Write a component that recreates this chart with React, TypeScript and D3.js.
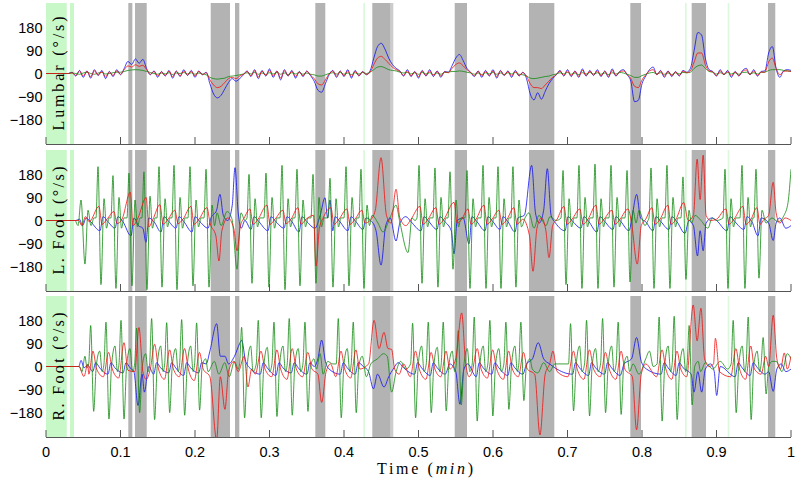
import React from 'react';
import * as d3 from 'd3';

// ---------- axis / labels ----------
const xTicks = [0, 0.1, 0.2, 0.3, 0.4, 0.5, 0.6, 0.7, 0.8, 0.9, 1];
const xTickLabels = ['0', '0.1', '0.2', '0.3', '0.4', '0.5', '0.6', '0.7', '0.8', '0.9', '1'];
const yTicks = [180, 90, 0, -90, -180];
const yTickLabels = ['180', '90', '0', '\u221290', '\u2212180'];
const panelNames = ['Lumbar', 'L. Foot', 'R. Foot'];

// ---------- shaded intervals (min) ----------
const grayBands = [[0.1105, 0.1159], [0.1195, 0.1352], [0.2211, 0.2470], [0.2537, 0.2595], [0.3615, 0.3749], [0.4380, 0.4627], [0.5486, 0.5651], [0.6483, 0.6823], [0.7843, 0.7987], [0.8667, 0.8859], [0.9691, 0.9789]];
const lightGrayBands = [[0.4627, 0.4662]];
const greenBands = [[0, 0.0278], [0.0322, 0.0376]];
const greenLines = [[0.4259, 0.4282], [0.8577, 0.8600], [0.9150, 0.9172]];

// ---------- Lumbar (sampled every 0.005 min) ----------
const lumbarStep = 0.005;
const lumbarBlue = [
  0, 0, 0, 0, 0, 0, 0, 5, -10, 12,
  -15, 10, -18, 15, -8, 12, -20, 8, -12, 15,
  -5, 20, 47, 35, 57, 40, 55, 20, -5, 10,
  -15, 8, -10, 12, -18, 10, -12, 15, -8, 12,
  -15, 10, -5, 5, -40, -80, -95, -85, -60, -35,
  -20, -30, -20, -5, 10, -12, 15, -20, 12, -10,
  18, -15, 10, -25, 15, -10, 12, -18, 8, -12,
  10, -8, -30, -65, -73, -40, -5, 12, -15, 10,
  -12, 15, -18, 12, -10, 8, -5, 10, 60, 105,
  118, 95, 60, 35, 20, 10, -10, 15, -12, 8,
  -18, 12, -10, 15, -12, 10, -15, 8, 5, 30,
  60, 74, 50, 20, 5, -12, 10, -15, 12, -10,
  15, -18, 12, -8, 10, -15, 12, -10, 5, -20,
  -80, -103, -75, -100, -70, -40, -20, -5, 12, -10,
  15, -12, 10, -15, 18, -10, 12, -8, 15, -12,
  10, -15, 18, -10, 8, 15, -5, -30, -110, -105,
  -40, -10, 15, 25, -5, 12, -15, 10, -12, 8,
  -10, 12, 5, 20, 90, 160, 150, 60, 15, 8,
  -10, 15, -5, 12, -15, 8, -10, 12, 20, -5,
  15, -10, 8, 10, 80, 105, 20, -15, 10, 15,
  12,
];
const lumbarRed = [
  0, 0, 0, 0, 0, 0, 0, 3, -8, 10,
  -10, 8, -12, 10, -6, 8, -14, 6, -8, 10,
  -3, 15, 30, 25, 34, 28, 32, 15, -3, 8,
  -10, 6, -8, 9, -12, 8, -9, 10, -6, 9,
  -10, 8, -4, 3, -25, -45, -55, -50, -35, -20,
  -15, -20, -10, -3, 8, -9, 10, -14, 9, -8,
  12, -10, 8, -18, 10, -8, 9, -12, 6, -9,
  8, -6, -20, -40, -45, -25, -2, 9, -10, 8,
  -9, 10, -12, 9, -8, 6, -3, 5, 35, 60,
  67, 55, 40, 25, 15, 8, -8, 10, -9, 6,
  -12, 9, -8, 10, -9, 8, -10, 6, 3, 20,
  35, 41, 30, 15, 4, -9, 8, -10, 9, -8,
  10, -12, 9, -6, 8, -10, 9, -8, 3, -10,
  -40, -55, -55, -59, -45, -30, -15, -4, 9, -8,
  10, -9, 8, -10, 12, -8, 9, -6, 10, -9,
  8, -10, 12, -8, 6, 10, -3, -20, -50, -55,
  -25, -5, 10, 15, -4, 9, -10, 8, -9, 6,
  -8, 9, 3, 10, 45, 80, 80, 35, 10, 6,
  -8, 10, -4, 9, -10, 6, -8, 9, 14, -4,
  10, -8, 6, 5, 45, 60, 20, -5, 8, 10,
  8,
];
const lumbarGreen = [
  0, 0, 0, 0, 0, 0, 0, 2, 0, -3,
  2, 5, 0, -3, 2, 4, -2, 0, 3, 5,
  5, 8, 12, 14, 15, 14, 12, 8, 4, 0,
  -3, 2, -2, 3, -4, 2, 0, 4, -2, 3,
  -3, 2, -2, -5, -15, -20, -22, -20, -18, -12,
  -10, -8, -5, -2, 3, -2, 4, -3, 2, -4,
  3, -2, 4, -3, 2, -4, 3, -2, 4, -3,
  2, -3, -5, -10, -10, -5, 0, 3, -2, 4,
  -3, 2, -4, 3, -2, 4, 0, 5, 15, 25,
  27, 22, 15, 12, 10, 5, 2, 4, -2, 3,
  -3, 4, -2, 3, -4, 2, -3, 4, 5, 8,
  8, 10, 8, 5, 2, -3, 2, -4, 3, -2,
  4, -3, 2, -4, 3, -2, 4, -3, -5, -10,
  -18, -20, -18, -15, -12, -10, -5, -2, 3, -2,
  4, -3, 2, -4, 3, -2, 4, -2, 3, -3,
  2, -4, 3, -2, 4, 2, -3, -8, -15, -15,
  -8, -3, 2, 4, -2, 3, -3, 2, -4, 3,
  -2, 4, 3, 5, 20, 30, 33, 20, 8, 5,
  -2, 3, -3, 4, -2, 3, -3, 4, 5, -2,
  3, -2, 4, 5, 12, 15, 15, 15, 12, 10,
  8,
];

// ---------- L. Foot (key points: [min, deg/s]) ----------
const lFootGreen = [
  [0, 0], [0.0389, 0], [0.0430, -20], [0.0470, 80], [0.0523, -170], [0.0564, 40], [0.0604, -20], [0.0644, 10],
  [0.0671, 10], [0.0698, 210], [0.0738, -250], [0.0779, 85], [0.0812, -30], [0.0846, 10],
  [0.0872, 10], [0.0899, 175], [0.0939, -265], [0.0980, 90], [0.1013, -30], [0.1047, 10],
  [0.1087, 10], [0.1114, 185], [0.1154, -255], [0.1195, 80], [0.1228, -25], [0.1262, 10],
  [0.1288, 10], [0.1315, 190], [0.1355, -270], [0.1396, 95], [0.1429, -30], [0.1463, 10],
  [0.1490, 10], [0.1517, 210], [0.1557, -260], [0.1598, 85], [0.1631, -25], [0.1665, 10],
  [0.1691, 10], [0.1718, 215], [0.1758, -270], [0.1799, 90], [0.1832, -30], [0.1866, 10],
  [0.1906, 10], [0.1933, 210], [0.1973, -255], [0.2014, 80], [0.2047, -25], [0.2081, 10],
  [0.2121, 10], [0.2148, 200], [0.2188, -260], [0.2229, 60], [0.2262, -20],
  [0.2296, 30], [0.2350, -20], [0.2430, 35], [0.2497, 5], [0.2564, -190], [0.2617, 30], [0.2671, 0],
  [0.2698, 10], [0.2725, 180], [0.2765, -245], [0.2806, 85], [0.2839, -25], [0.2873, 10],
  [0.2926, 10], [0.2953, 185], [0.2993, -260], [0.3034, 90], [0.3067, -30], [0.3101, 10],
  [0.3141, 10], [0.3168, 215], [0.3208, -270], [0.3249, 85], [0.3282, -25], [0.3316, 10],
  [0.3342, 10], [0.3369, 200], [0.3409, -255], [0.3450, 80], [0.3483, -25], [0.3517, 10],
  [0.3557, 10], [0.3584, 180], [0.3624, -245], [0.3665, 90], [0.3698, -25], [0.3732, 10],
  [0.3785, 10], [0.3812, 165], [0.3852, -260], [0.3893, 85], [0.3926, -25], [0.3960, 10],
  [0.4000, 10], [0.4027, 210], [0.4067, -255], [0.4108, 90], [0.4141, -25], [0.4175, 10],
  [0.4201, 10], [0.4228, 200], [0.4268, -265], [0.4309, 60], [0.4342, -20],
  [0.4376, 20], [0.4456, -10], [0.4523, -45], [0.4617, 10], [0.4698, 60], [0.4752, -10], [0.4859, -125], [0.4913, 10], [0.4953, 0],
  [0.4980, 10], [0.5007, 215], [0.5047, -245], [0.5088, 85], [0.5121, -25], [0.5155, 10],
  [0.5194, 10], [0.5221, 205], [0.5261, -260], [0.5302, 90], [0.5335, -25], [0.5369, 10],
  [0.5396, 10], [0.5423, 190], [0.5463, -190], [0.5504, 80], [0.5537, -25], [0.5571, 10],
  [0.5624, 10], [0.5651, 195], [0.5691, -265], [0.5732, 85], [0.5765, -25], [0.5799, 10],
  [0.5839, 10], [0.5866, 215], [0.5906, -265], [0.5947, 90], [0.5980, -25], [0.6014, 10],
  [0.6040, 10], [0.6067, 210], [0.6107, -265], [0.6148, 85], [0.6181, -25], [0.6215, 10],
  [0.6241, 10], [0.6268, 210], [0.6308, -260], [0.6349, 80], [0.6382, -25],
  [0.6430, 10], [0.6483, 30], [0.6550, -30], [0.6617, 20], [0.6711, -20], [0.6765, 15], [0.6846, 0],
  [0.6913, 10], [0.6940, 195], [0.6980, -250], [0.7021, 85], [0.7054, -25], [0.7088, 10],
  [0.7127, 10], [0.7154, 215], [0.7194, -265], [0.7235, 90], [0.7268, -25], [0.7302, 10],
  [0.7342, 10], [0.7369, 220], [0.7409, -265], [0.7450, 85], [0.7483, -25], [0.7517, 10],
  [0.7557, 10], [0.7584, 215], [0.7624, -260], [0.7665, 90], [0.7698, -25], [0.7732, 10],
  [0.7772, 10], [0.7799, 195], [0.7839, -240], [0.7880, 40], [0.7920, -10],
  [0.7960, 40], [0.8040, -20], [0.8080, 0],
  [0.8094, 10], [0.8121, 205], [0.8161, -265], [0.8202, 85], [0.8235, -25], [0.8269, 10],
  [0.8308, 10], [0.8335, 215], [0.8375, -265], [0.8416, 90], [0.8449, -25], [0.8483, 10],
  [0.8523, 10], [0.8550, 170], [0.8590, -230], [0.8631, 40], [0.8664, -10],
  [0.8711, 20], [0.8792, 0], [0.8886, -30], [0.8940, 10], [0.9000, 0],
  [0.9087, 10], [0.9114, 200], [0.9154, -265], [0.9195, 85], [0.9228, -25], [0.9262, 10],
  [0.9315, 10], [0.9342, 215], [0.9382, -265], [0.9423, 90], [0.9456, -25], [0.9490, 10],
  [0.9503, 10], [0.9530, 200], [0.9570, -225], [0.9611, 40], [0.9664, -10], [0.9745, 10], [0.9826, -5], [0.9906, 20], [0.9960, 70], [1.0, 200],
];
const lFootRed = [
  [0, 0], [0.0440, 0], [0.0480, -20], [0.0530, 15], [0.0580, -5],
  [0.0711, 55], [0.0752, -15], [0.0819, 5],
  [0.0912, 35], [0.0953, -12], [0.1020, 5],
  [0.1132, 110], [0.1168, -20], [0.1235, 10],
  [0.1345, 90], [0.1380, -25], [0.1436, 5],
  [0.1530, 62], [0.1571, -15], [0.1638, 5],
  [0.1731, 40], [0.1772, -12], [0.1839, 5],
  [0.1946, 55], [0.1987, -15], [0.2054, 5],
  [0.2161, 50], [0.2202, -10], [0.2280, -60], [0.2322, -158], [0.2360, -40], [0.2440, 10], [0.2520, -30], [0.2564, -118], [0.2610, -20], [0.2660, 10],
  [0.2738, 45], [0.2779, -15], [0.2846, 5],
  [0.2966, 60], [0.3007, -15], [0.3074, 5],
  [0.3181, 40], [0.3222, -12], [0.3289, 5],
  [0.3382, 50], [0.3423, -15], [0.3490, 5],
  [0.3590, 20], [0.3624, -178], [0.3670, -30], [0.3720, 10],
  [0.3825, 50], [0.3866, -15], [0.3933, 5],
  [0.4040, 45], [0.4081, -15], [0.4148, 5],
  [0.4241, 40], [0.4282, -10], [0.4350, 0], [0.4420, 40], [0.4497, 245], [0.4570, 20], [0.4630, -10], [0.4698, 122], [0.4750, 10], [0.4830, -20], [0.4900, 5],
  [0.5020, 55], [0.5061, -15], [0.5128, 5],
  [0.5234, 50], [0.5275, -15], [0.5342, 5],
  [0.5477, 71], [0.5520, -10], [0.5580, 5],
  [0.5664, 45], [0.5705, -15], [0.5772, 5],
  [0.5879, 60], [0.5920, -15], [0.5987, 5],
  [0.6080, 40], [0.6121, -15], [0.6188, 5],
  [0.6281, 50], [0.6322, -15], [0.6400, 5],
  [0.6490, -60], [0.6537, -198], [0.6590, -30], [0.6650, 10], [0.6710, -40], [0.6752, -145], [0.6800, -20], [0.6860, 5],
  [0.6953, 55], [0.6994, -15], [0.7061, 5],
  [0.7167, 45], [0.7208, -15], [0.7275, 5],
  [0.7382, 60], [0.7423, -15], [0.7490, 5],
  [0.7597, 40], [0.7638, -15], [0.7705, 5],
  [0.7812, 45], [0.7860, -10], [0.7936, -170], [0.7990, -20], [0.8050, 5],
  [0.8134, 50], [0.8175, -15], [0.8242, 5],
  [0.8348, 60], [0.8389, -15], [0.8456, 5],
  [0.8560, 70], [0.8620, 0], [0.8690, 20], [0.8740, 239], [0.8780, 82], [0.8821, 255], [0.8860, 20], [0.8920, 0], [0.9000, 5],
  [0.9127, 45], [0.9168, -15], [0.9235, 5],
  [0.9355, 55], [0.9396, -15], [0.9463, 5],
  [0.9543, 50], [0.9584, -15], [0.9640, 5], [0.9700, 20], [0.9761, 149], [0.9800, 30], [0.9850, -10], [0.9920, 10], [1.0, 0],
];
const lFootBlue = [
  [0, 0], [0.0400, 0], [0.0450, 5], [0.0490, -20], [0.0540, 10], [0.0600, -5],
  [0.0725, -40], [0.0765, 15], [0.0832, -5],
  [0.0926, -30], [0.0966, 15], [0.1033, -5],
  [0.1141, -60], [0.1181, 10], [0.1240, -20],
  [0.1300, -30], [0.1342, -85], [0.1380, 10], [0.1450, -5],
  [0.1544, -45], [0.1584, 15], [0.1651, -5],
  [0.1745, -30], [0.1785, 15], [0.1852, -5],
  [0.1960, -45], [0.2000, 15], [0.2067, -5],
  [0.2175, -30], [0.2215, 10], [0.2290, 40], [0.2335, 102], [0.2380, 20], [0.2440, 0], [0.2500, 60], [0.2537, 206], [0.2580, 30], [0.2620, -30], [0.2670, 0],
  [0.2752, -35], [0.2792, 15], [0.2859, -5],
  [0.2980, -40], [0.3020, 15], [0.3087, -5],
  [0.3195, -30], [0.3235, 15], [0.3302, -5],
  [0.3396, -45], [0.3436, 15], [0.3503, -5],
  [0.3611, -30], [0.3680, 20], [0.3745, 89], [0.3780, 10],
  [0.3812, 80], [0.3850, -40], [0.3880, 15], [0.3945, -5],
  [0.4054, -40], [0.4094, 15], [0.4161, -5],
  [0.4255, -35], [0.4295, 10], [0.4360, 0],
  [0.4430, -40], [0.4497, -174], [0.4560, -20], [0.4620, 10], [0.4698, -80], [0.4750, -10], [0.4830, 15], [0.4900, -5],
  [0.5034, -40], [0.5074, 15], [0.5141, -5],
  [0.5248, -35], [0.5288, 15], [0.5355, -5],
  [0.5440, -40], [0.5477, -130], [0.5520, 0], [0.5600, 10],
  [0.5678, -91], [0.5718, 15], [0.5785, -5],
  [0.5893, -40], [0.5933, 15], [0.6000, -5],
  [0.6094, -35], [0.6134, 15], [0.6201, -5],
  [0.6295, -45], [0.6335, 10], [0.6420, 20], [0.6519, 215], [0.6570, 30], [0.6620, -10], [0.6680, 40], [0.6729, 202], [0.6780, 20], [0.6840, -10],
  [0.6967, -40], [0.7007, 15], [0.7074, -5],
  [0.7181, -30], [0.7221, 15], [0.7288, -5],
  [0.7396, -45], [0.7436, 15], [0.7503, -5],
  [0.7611, -35], [0.7651, 15], [0.7718, -5],
  [0.7826, -40], [0.7870, 20], [0.7928, 102], [0.7980, 10], [0.8050, -5],
  [0.8148, -40], [0.8188, 15], [0.8255, -5],
  [0.8362, -35], [0.8402, 15], [0.8469, -5],
  [0.8577, -50], [0.8630, 0], [0.8690, -20], [0.8745, -138], [0.8780, -40], [0.8821, -118], [0.8860, -10], [0.8940, 10], [0.9000, 0],
  [0.9141, -40], [0.9181, 15], [0.9248, -5],
  [0.9369, -35], [0.9409, 15], [0.9476, -5],
  [0.9557, -60], [0.9600, 10], [0.9700, -10], [0.9761, -78], [0.9800, -10], [0.9850, 10], [0.9930, -30], [1.0, -20],
];

// ---------- R. Foot (key points: [min, deg/s]) ----------
const rFootGreen = [
  [0, 0], [0.0450, 0], [0.0483, -20], [0.0523, 40], [0.0550, -5],
  [0.0573, 10], [0.0600, 160], [0.0640, -175], [0.0674, 0], [0.0721, 60], [0.0754, -20],
  [0.0778, 10], [0.0805, 173], [0.0845, -205], [0.0879, 0], [0.0926, 80], [0.0959, -20],
  [0.0980, 10], [0.1007, 180], [0.1047, -205], [0.1081, 0], [0.1128, 70], [0.1161, -20],
  [0.1190, 10], [0.1217, 150], [0.1257, -180], [0.1291, 0], [0.1338, 50], [0.1371, -20],
  [0.1391, 10], [0.1418, 187], [0.1458, -207], [0.1492, 0], [0.1539, 80], [0.1572, -20],
  [0.1593, 10], [0.1620, 171], [0.1660, -180], [0.1694, 0], [0.1741, 70], [0.1774, -20],
  [0.1794, 10], [0.1821, 183], [0.1861, -190], [0.1895, 0], [0.1942, 80], [0.1975, -20],
  [0.1995, 10], [0.2022, 170], [0.2062, -170], [0.2096, 0], [0.2143, 30], [0.2176, -20],
  [0.2260, 20], [0.2320, -30], [0.2400, 15], [0.2460, -40], [0.2530, 20], [0.2580, -10],
  [0.2599, 10], [0.2626, 153], [0.2666, -200], [0.2700, 0], [0.2747, 80], [0.2780, -20],
  [0.2822, 10], [0.2849, 180], [0.2889, -200], [0.2923, 0], [0.2970, 75], [0.3003, -20],
  [0.3033, 10], [0.3060, 173], [0.3100, -195], [0.3134, 0], [0.3181, 80], [0.3214, -20],
  [0.3238, 10], [0.3265, 187], [0.3305, -190], [0.3339, 0], [0.3386, 70], [0.3419, -20],
  [0.3449, 10], [0.3476, 173], [0.3516, -175], [0.3550, 0], [0.3597, 30], [0.3630, -10],
  [0.3680, 50], [0.3720, -30], [0.3780, 20], [0.3850, 10],
  [0.3896, 10], [0.3923, 187], [0.3963, -200], [0.3997, 0], [0.4044, 70], [0.4077, -20],
  [0.4097, 10], [0.4124, 173], [0.4164, -180], [0.4198, 0], [0.4245, 40], [0.4300, -40], [0.4360, 10], [0.4450, 30], [0.4530, 50], [0.4580, 40], [0.4639, -100], [0.4700, -20], [0.4760, 20], [0.4830, -10],
  [0.4894, 10], [0.4921, 169], [0.4961, -200], [0.4995, 0], [0.5042, 80], [0.5075, -20],
  [0.5104, 10], [0.5131, 173], [0.5171, -180], [0.5205, 0], [0.5252, 75], [0.5285, -20],
  [0.5305, 10], [0.5332, 173], [0.5372, -173], [0.5406, 0], [0.5453, 60], [0.5486, -20],
  [0.5507, 10], [0.5534, 140], [0.5574, -150], [0.5608, 0], [0.5655, 70], [0.5688, -20],
  [0.5721, 10], [0.5748, 193], [0.5788, -213], [0.5822, 0], [0.5869, 80], [0.5902, -20],
  [0.5931, 10], [0.5958, 180], [0.5998, -193], [0.6032, 0], [0.6079, 70], [0.6112, -20],
  [0.6146, 10], [0.6173, 173], [0.6213, -167], [0.6247, 0], [0.6294, 80], [0.6327, -20],
  [0.6347, 10], [0.6374, 173], [0.6414, -133], [0.6448, 0], [0.6495, 30], [0.6528, -10],
  [0.6600, -25], [0.6680, 15], [0.6760, -20], [0.6830, 10],
  [0.7014, 10], [0.7041, 167], [0.7081, -173], [0.7115, 0], [0.7162, 80], [0.7195, -20],
  [0.7229, 10], [0.7256, 180], [0.7296, -193], [0.7330, 0], [0.7377, 70], [0.7410, -20],
  [0.7444, 10], [0.7471, 187], [0.7511, -180], [0.7545, 0], [0.7592, 80], [0.7625, -20],
  [0.7653, 10], [0.7680, 173], [0.7720, -187], [0.7754, 0], [0.7801, 40], [0.7834, -20],
  [0.7880, 10], [0.7960, -30], [0.8050, 30], [0.8100, 60], [0.8150, 0],
  [0.8203, 10], [0.8230, 193], [0.8270, -213], [0.8304, 0], [0.8351, 80], [0.8384, -20],
  [0.8405, 10], [0.8432, 196], [0.8472, -207], [0.8506, 0], [0.8553, 70], [0.8586, -20],
  [0.8606, 10], [0.8633, 160], [0.8673, -150], [0.8707, 0], [0.8754, 20], [0.8787, -20],
  [0.8850, 15], [0.8950, -10], [0.9050, 20], [0.9150, -10],
  [0.9197, 10], [0.9224, 180], [0.9264, -180], [0.9298, 0], [0.9345, 80], [0.9378, -20],
  [0.9398, 10], [0.9425, 193], [0.9465, -207], [0.9499, 0], [0.9546, 60], [0.9579, -20],
  [0.9599, 10], [0.9626, 113], [0.9666, -107], [0.9700, 0], [0.9747, 20], [0.9800, 20], [0.9880, -20], [0.9950, 50], [1.0, 30],
];
const rFootRed = [
  [0, 0], [0.0440, 0], [0.0510, -39], [0.0560, 10],
  [0.0575, -30], [0.0630, 60], [0.0680, -10],
  [0.0770, -40], [0.0840, 55], [0.0890, -10],
  [0.0975, -45], [0.1047, 93], [0.1100, -15],
  [0.1190, -20], [0.1248, 152], [0.1300, -20], [0.1345, -50], [0.1400, -10],
  [0.1458, 87], [0.1510, -10],
  [0.1590, -50], [0.1660, 65], [0.1710, -10],
  [0.1790, -40], [0.1860, 70], [0.1910, -10],
  [0.1990, -55], [0.2060, 55], [0.2110, -10],
  [0.2200, -40], [0.2291, -287], [0.2340, -40], [0.2402, -167], [0.2450, -20], [0.2520, 20], [0.2580, -20],
  [0.2660, 40], [0.2711, -80], [0.2760, -10],
  [0.2810, -30], [0.2885, 60], [0.2940, -10],
  [0.3030, -40], [0.3100, 65], [0.3150, -10],
  [0.3235, -50], [0.3305, 70], [0.3360, -10],
  [0.3445, -40], [0.3515, 55], [0.3570, -10],
  [0.3650, -30], [0.3700, -140], [0.3760, -20], [0.3820, 10],
  [0.3890, -40], [0.3960, 60], [0.4010, -10],
  [0.4090, -45], [0.4160, 65], [0.4210, -10],
  [0.4330, 10], [0.4403, 180], [0.4470, 70], [0.4537, 133], [0.4590, 70], [0.4639, 67], [0.4680, -10], [0.4740, -30], [0.4800, 10],
  [0.4890, -40], [0.4960, 60], [0.5010, -10],
  [0.5100, -50], [0.5170, 55], [0.5220, -10],
  [0.5300, -40], [0.5370, 60], [0.5420, -10],
  [0.5500, 30], [0.5580, 209], [0.5630, 20], [0.5680, -40],
  [0.5720, -20], [0.5788, 70], [0.5840, -10],
  [0.5925, -45], [0.5995, 65], [0.6050, -10],
  [0.6140, -50], [0.6210, 60], [0.6260, -10],
  [0.6340, -40], [0.6410, 55], [0.6460, -10],
  [0.6560, -30], [0.6630, -267], [0.6700, -30], [0.6760, 10], [0.6805, 60], [0.6860, -20],
  [0.7005, -40], [0.7080, 60], [0.7130, -10],
  [0.7220, -50], [0.7295, 65], [0.7350, -10],
  [0.7440, -40], [0.7510, 55], [0.7560, -10],
  [0.7650, -50], [0.7720, 60], [0.7770, -10],
  [0.7870, -40], [0.7927, -247], [0.7990, -30], [0.8050, 10],
  [0.8195, -40], [0.8270, 65], [0.8320, -10],
  [0.8400, -50], [0.8470, 60], [0.8520, -10],
  [0.8600, -40], [0.8687, 240], [0.8740, 100], [0.8791, 227], [0.8840, 30], [0.8900, 0],
  [0.8960, 10], [0.8985, 110], [0.9040, -20],
  [0.9190, -40], [0.9260, 70], [0.9310, -10],
  [0.9390, -50], [0.9460, 80], [0.9510, -10],
  [0.9600, -30], [0.9660, 40], [0.9700, 0], [0.9761, 200], [0.9810, 30], [0.9860, -10], [0.9910, 53], [0.9950, -10], [1.0, 40],
];
const rFootBlue = [
  [0, 0], [0.0440, 0], [0.0470, 24], [0.0510, -5], [0.0560, 5],
  [0.0627, -20], [0.0667, 15], [0.0720, -5],
  [0.0832, -30], [0.0872, 15], [0.0925, -5],
  [0.1034, -25], [0.1074, 15], [0.1127, -5],
  [0.1180, -20], [0.1235, -152], [0.1290, -30], [0.1320, -100], [0.1380, 0],
  [0.1445, -30], [0.1485, 15], [0.1538, -5],
  [0.1647, -25], [0.1687, 15], [0.1740, -5],
  [0.1848, -35], [0.1888, 15], [0.1941, -5],
  [0.2049, -25], [0.2089, 15], [0.2150, 10],
  [0.2200, 60], [0.2291, 167], [0.2340, 40], [0.2402, 40], [0.2450, 10], [0.2530, 40], [0.2600, 90], [0.2626, 103], [0.2680, 20], [0.2750, -10],
  [0.2876, -30], [0.2916, 15], [0.2969, -5],
  [0.3087, -35], [0.3127, 15], [0.3180, -5],
  [0.3292, -25], [0.3332, 15], [0.3385, -5],
  [0.3503, -30], [0.3543, 15], [0.3600, 0],
  [0.3650, 30], [0.3700, 103], [0.3750, 20], [0.3800, -10],
  [0.3950, -30], [0.3990, 15], [0.4043, -5],
  [0.4151, -30], [0.4191, 15], [0.4260, 0],
  [0.4330, -20], [0.4395, -87], [0.4450, -30], [0.4537, -80], [0.4600, -40], [0.4660, -10], [0.4730, 15], [0.4800, -5],
  [0.4948, -30], [0.4988, 15], [0.5041, -5],
  [0.5158, -35], [0.5198, 15], [0.5251, -5],
  [0.5359, -30], [0.5420, 10], [0.5500, -20], [0.5556, -147], [0.5610, -10], [0.5660, 10],
  [0.5775, -40], [0.5815, 15], [0.5868, -5],
  [0.5985, -30], [0.6025, 15], [0.6078, -5],
  [0.6200, -35], [0.6240, 15], [0.6293, -5],
  [0.6401, -30], [0.6450, 10], [0.6530, 30], [0.6607, 93], [0.6680, 30], [0.6760, 10], [0.6830, -5],
  [0.7068, -30], [0.7108, 15], [0.7161, -5],
  [0.7283, -35], [0.7323, 15], [0.7376, -5],
  [0.7498, -30], [0.7538, 15], [0.7591, -5],
  [0.7707, -35], [0.7760, 10], [0.7860, 30], [0.7927, 113], [0.7990, 20], [0.8060, -10],
  [0.8257, -30], [0.8297, 15], [0.8350, -5],
  [0.8459, -35], [0.8499, 15], [0.8552, -5],
  [0.8660, -30], [0.8697, -100], [0.8750, -20], [0.8801, -100], [0.8850, -10], [0.8920, 10],
  [0.8970, -20], [0.9002, -113], [0.9050, 0],
  [0.9251, -40], [0.9291, 15], [0.9344, -5],
  [0.9452, -35], [0.9492, 15], [0.9550, -5],
  [0.9653, -30], [0.9700, -20], [0.9761, -97], [0.9810, -10], [0.9870, 10], [0.9930, -20], [1.0, -10],
];

const seriesColors = { blue: '#1010f0', green: '#108a10', red: '#f01010' };

const toPts = (arr: number[]) => arr.map((v, i) => [i * lumbarStep, v] as [number, number]);

export default function App() {
  const W = 800, H = 482;
  const x = d3.scaleLinear().domain([0, 1]).range([46, 791]);
  const panelH = 141;
  const panels = [
    { name: panelNames[0], top: 3, series: [['blue', toPts(lumbarBlue)], ['green', toPts(lumbarGreen)], ['red', toPts(lumbarRed)]], labelLen: 114 },
    { name: panelNames[1], top: 150, series: [['blue', lFootBlue], ['green', lFootGreen], ['red', lFootRed]], labelLen: 108 },
    { name: panelNames[2], top: 296, series: [['blue', rFootBlue], ['green', rFootGreen], ['red', rFootRed]], labelLen: 108 },
  ];
  const sans = '"Liberation Sans", Arial, Helvetica, sans-serif';
  const serif = '"Liberation Serif", "DejaVu Serif", serif';

  return (
    <svg width={W} height={H} style={{ position: 'absolute', left: 0, top: 0, background: '#fff' }}>
      <rect x={0} y={0} width={W} height={H} fill="#fff" />
      {panels.map((p, pi) => {
        const y = d3.scaleLinear().domain([-275, 275]).range([p.top + panelH, p.top]);
        const line = d3.line<any>().x((d: any) => x(d[0])).y((d: any) => y(d[1])).curve(d3.curveMonotoneX);
        const bottom = p.top + panelH;
        const cx = `clip${pi}`;
        return (
          <g key={pi}>
            <defs>
              <clipPath id={cx}>
                <rect x={x(0)} y={p.top} width={x(1) - x(0)} height={panelH} />
              </clipPath>
            </defs>
            {greenBands.map((b, i) => (
              <rect key={'gb' + i} x={x(b[0])} y={p.top} width={x(b[1]) - x(b[0])} height={panelH} fill="#c8f7c8" />
            ))}
            {greenLines.map((b, i) => (
              <rect key={'gl' + i} x={x(b[0])} y={p.top} width={x(b[1]) - x(b[0])} height={panelH} fill="#dcf8dc" />
            ))}
            {grayBands.map((b, i) => (
              <rect key={'gr' + i} x={x(b[0])} y={p.top} width={x(b[1]) - x(b[0])} height={panelH} fill="#b3b3b3" />
            ))}
            {lightGrayBands.map((b, i) => (
              <rect key={'lg' + i} x={x(b[0])} y={p.top} width={x(b[1]) - x(b[0])} height={panelH} fill="#cccccc" />
            ))}
            <g clipPath={`url(#${cx})`}>
              {p.series.map(([c, pts]: any, si) => (
                <path key={si} d={line(pts) || ''} fill="none" stroke={(seriesColors as any)[c]} strokeWidth={0.8} strokeLinejoin="round" />
              ))}
            </g>
            <line x1={x(0)} x2={x(1)} y1={bottom + 0.5} y2={bottom + 0.5} stroke="#555" strokeWidth={1} />
            {xTicks.map((t, i) => (
              <line key={'xt' + i} x1={x(t)} x2={x(t)} y1={bottom} y2={bottom - 7} stroke="#555" strokeWidth={1} />
            ))}
            {yTicks.map((v, i) => (
              <text key={'yt' + i} x={42.5} y={y(v)} dy="0.36em" textAnchor="end" fontFamily={sans} fontSize={14.5} fill="#000">
                {yTickLabels[i]}
              </text>
            ))}
            <text
              transform={`translate(64,${p.top + panelH / 2}) rotate(-90)`}
              textAnchor="middle"
              fontFamily={serif}
              fontSize={16}
              fill="#000"
              textLength={p.labelLen}
              lengthAdjust="spacing"
            >
              {p.name + ' (\u00b0/s)'}
            </text>
            {pi === 2 && xTicks.map((t, i) => (
              <text key={'xl' + i} x={x(t)} y={457} textAnchor="middle" fontFamily={sans} fontSize={14.5} fill="#000">
                {xTickLabels[i]}
              </text>
            ))}
          </g>
        );
      })}
      <text x={425} y={474} textAnchor="middle" fontFamily={serif} fontSize={16} fill="#000" textLength={96} lengthAdjust="spacing">
        Time (<tspan fontStyle="italic">min</tspan>)
      </text>
    </svg>
  );
}
